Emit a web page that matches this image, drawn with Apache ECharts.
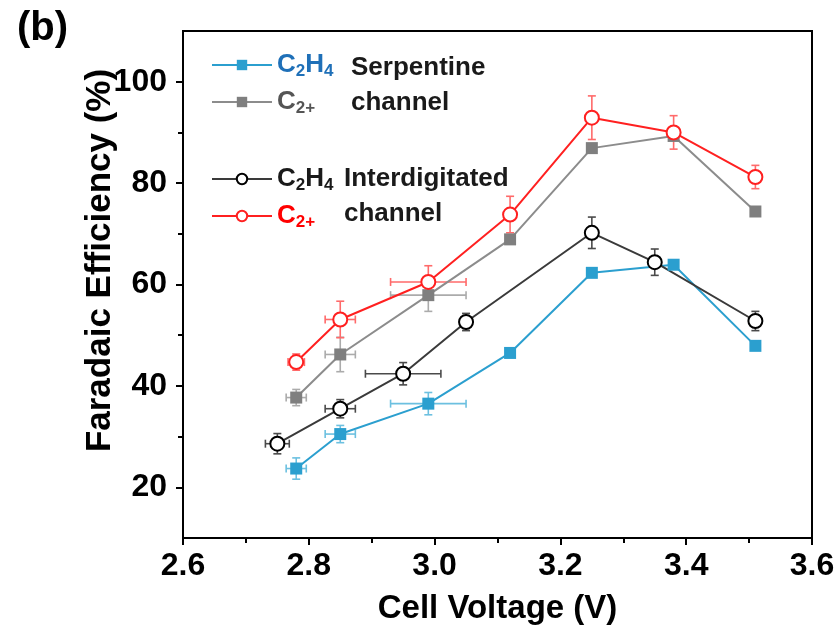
<!DOCTYPE html>
<html>
<head>
<meta charset="utf-8">
<title>Faradaic Efficiency vs Cell Voltage</title>
<script src="https://cdn.jsdelivr.net/npm/echarts@6/dist/echarts.min.js"></script>
<style>
  html, body { margin: 0; padding: 0; background: #fff; }
  #chart { width: 840px; height: 628px; }
</style>
</head>
<body>
<div id="chart"></div>
<script>
// Serpentine channel
const voltSerp      = [2.78, 2.85, 2.99, 3.12, 3.25, 3.38, 3.51];
const voltSerpErr   = [0.016, 0.024, 0.06, 0, 0, 0, 0];
const c2h4Serp      = [23.7, 30.5, 36.5, 46.5, 62.3, 63.9, 47.9];
const c2h4SerpErr   = [2.1, 1.7, 2.2, 0, 0, 0, 0];
const c2plusSerp    = [37.7, 46.2, 57.9, 68.9, 86.9, 89.3, 74.4];
const c2plusSerpErr = [1.6, 3.4, 3.2, 0, 0, 0, 0];

// Interdigitated channel
const voltInterC2H4    = [2.75, 2.85, 2.95, 3.05, 3.25, 3.35, 3.51];
const voltInterC2H4Err = [0.019, 0.024, 0.06, 0, 0, 0, 0];
const c2h4Inter        = [28.6, 35.5, 42.4, 52.6, 70.2, 64.4, 52.8];
const c2h4InterErr     = [2.0, 1.8, 2.2, 1.7, 3.1, 2.6, 1.9];
const voltInterC2      = [2.78, 2.85, 2.99, 3.12, 3.25, 3.38, 3.51];
const voltInterC2Err   = [0.013, 0.024, 0.06, 0, 0, 0, 0];
const c2plusInter      = [44.7, 53.1, 60.5, 73.8, 92.9, 90.0, 81.2];
const c2plusInterErr   = [1.6, 3.6, 3.2, 3.6, 4.3, 3.3, 2.3];

// Axis ticks
const xTicks      = [2.6, 2.8, 3.0, 3.2, 3.4, 3.6];
const yTickLabels = [20, 40, 60, 80, 100];
const yMinorTicks = [30, 50, 70, 90];

const FONT = "'Liberation Sans', Arial, sans-serif";

const C_BLUE = '#2b9fcf', C_GRAY = '#7f7f7f', C_BLACK = '#3a3a3a', C_RED = '#ff2020';

function zip(xs, ys) { return xs.map((x, i) => [x, ys[i]]); }

// Error bars (x and y) drawn through the axes' coordinate system
function errorBars(id, xs, xErr, ys, yErr, color) {
  return {
    type: 'custom',
    id: id,
    silent: true,
    encode: { x: 0, y: 1 },
    data: xs.map((x, i) => [x, ys[i], xErr[i], yErr[i]]),
    renderItem: function (params, api) {
      const x = api.value(0), y = api.value(1), dx = api.value(2), dy = api.value(3);
      const cap = 4;
      const st = { stroke: color, lineWidth: 1.6 };
      const kids = [];
      if (dy > 0) {
        const a = api.coord([x, y + dy]), b = api.coord([x, y - dy]);
        kids.push({ type: 'line', shape: { x1: a[0], y1: a[1], x2: b[0], y2: b[1] }, style: st });
        kids.push({ type: 'line', shape: { x1: a[0] - cap, y1: a[1], x2: a[0] + cap, y2: a[1] }, style: st });
        kids.push({ type: 'line', shape: { x1: b[0] - cap, y1: b[1], x2: b[0] + cap, y2: b[1] }, style: st });
      }
      if (dx > 0) {
        const a = api.coord([x - dx, y]), b = api.coord([x + dx, y]);
        kids.push({ type: 'line', shape: { x1: a[0], y1: a[1], x2: b[0], y2: b[1] }, style: st });
        kids.push({ type: 'line', shape: { x1: a[0], y1: a[1] - cap, x2: a[0], y2: a[1] + cap }, style: st });
        kids.push({ type: 'line', shape: { x1: b[0], y1: b[1] - cap, x2: b[0], y2: b[1] + cap }, style: st });
      }
      return { type: 'group', children: kids };
    }
  };
}

function lineSeries(name, xs, ys, lineColor, symbol, size, markerColor, fill) {
  return {
    type: 'line',
    name: name,
    data: zip(xs, ys),
    symbol: symbol,
    symbolSize: size,
    showAllSymbol: true,
    lineStyle: { color: lineColor, width: 2 },
    itemStyle: { color: fill || markerColor, borderColor: markerColor, borderWidth: fill ? 2 : 0 },
    emphasis: { disabled: true }
  };
}

const legendText = {
  'C2H4 serpentine':     '{bm|C}{bs|2}{bm|H}{bs|4}',
  'C2+ serpentine':      '{gm|C}{gs|2+}',
  'C2H4 interdigitated': '{km|C}{ks|2}{km|H}{ks|4}',
  'C2+ interdigitated':  '{rm|C}{rs|2+}'
};

function richPair(color) {
  return [
    { color: color, fontFamily: FONT, fontWeight: 'bold', fontSize: 26, lineHeight: 30 },
    { color: color, fontFamily: FONT, fontWeight: 'bold', fontSize: 17, lineHeight: 17, verticalAlign: 'bottom' }
  ];
}
const [bm, bs] = richPair('#1f70b8');
const [gm, gs] = richPair('#555555');
const [km, ks] = richPair('#1a1a1a');
const [rm, rs] = richPair('#ff0000');
const legendRich = { bm, bs, gm, gs, km, ks, rm, rs };

function legendBlock(names, top) {
  return {
    orient: 'vertical',
    left: 206,
    top: top,
    itemWidth: 60,
    itemHeight: 13,
    itemGap: 9,
    selectedMode: false,
    data: names,
    formatter: n => legendText[n],
    textStyle: { rich: legendRich, padding: [0, 0, 0, 0] }
  };
}

const chart = echarts.init(document.getElementById('chart'), null, { renderer: 'canvas' });

chart.setOption({
  animation: false,
  backgroundColor: '#fff',
  title: {
    text: '(b)', left: 12, top: 4,
    textStyle: { fontFamily: FONT, fontWeight: 'bold', fontSize: 40, color: '#000' }
  },
  grid: {
    left: 183, right: 28, top: 31, bottom: 90,
    show: true, borderColor: '#000', borderWidth: 2,
    outerBoundsMode: 'none'
  },
  legend: [
    legendBlock(['C2H4 serpentine', 'C2+ serpentine'], 47),
    legendBlock(['C2H4 interdigitated', 'C2+ interdigitated'], 161)
  ],
  graphic: [
    { type: 'text', left: 351, top: 55, style: { text: 'Serpentine', font: "bold 26px " + FONT, fill: '#1a1a1a' } },
    { type: 'text', left: 351, top: 90, style: { text: 'channel', font: "bold 26px " + FONT, fill: '#1a1a1a' } },
    { type: 'text', left: 344, top: 166, style: { text: 'Interdigitated', font: "bold 26px " + FONT, fill: '#1a1a1a' } },
    { type: 'text', left: 344, top: 201, style: { text: 'channel', font: "bold 26px " + FONT, fill: '#1a1a1a' } }
  ],
  xAxis: {
    type: 'value',
    min: xTicks[0], max: xTicks[xTicks.length - 1], interval: 0.2,
    name: 'Cell Voltage (V)', nameLocation: 'middle', nameGap: 54,
    nameMoveOverlap: false,
    nameTextStyle: { fontFamily: FONT, fontWeight: 'bold', fontSize: 33, color: '#000' },
    axisLine: { show: true, lineStyle: { color: '#000', width: 2 } },
    axisTick: { show: true, length: 7, lineStyle: { color: '#000', width: 2 } },
    minorTick: { show: true, splitNumber: 2, length: 5, lineStyle: { color: '#000', width: 2 } },
    axisLabel: {
      margin: 12, color: '#000', fontFamily: FONT, fontWeight: 'bold', fontSize: 32,
      formatter: v => v.toFixed(1)
    },
    splitLine: { show: false }
  },
  yAxis: [
    {
      type: 'value', min: 10, max: 110,
      name: 'Faradaic Efficiency (%)', nameLocation: 'middle', nameGap: 65,
      nameMoveOverlap: false,
      nameTextStyle: {
        fontFamily: FONT, fontWeight: 'bold', fontSize: 35, color: '#000',
        padding: [0, 0, 0, 48]
      },
      axisLine: { show: true, lineStyle: { color: '#000', width: 2 } },
      axisTick: { show: true, length: 7, customValues: yTickLabels, lineStyle: { color: '#000', width: 2 } },
      axisLabel: {
        margin: 16, color: '#000', fontFamily: FONT, fontWeight: 'bold', fontSize: 32,
        customValues: yTickLabels
      },
      splitLine: { show: false }
    },
    {
      type: 'value', min: 10, max: 110, position: 'left',
      axisLine: { show: false },
      axisTick: { show: true, length: 5, customValues: yMinorTicks, lineStyle: { color: '#000', width: 2 } },
      axisLabel: { show: false },
      splitLine: { show: false }
    }
  ],
  series: [
    errorBars('eb-c2h4-serp', voltSerp, voltSerpErr, c2h4Serp, c2h4SerpErr, '#6cc0e0'),
    lineSeries('C2H4 serpentine', voltSerp, c2h4Serp, C_BLUE, 'rect', 12, C_BLUE),
    errorBars('eb-c2plus-serp', voltSerp, voltSerpErr, c2plusSerp, c2plusSerpErr, '#ababab'),
    lineSeries('C2+ serpentine', voltSerp, c2plusSerp, '#8c8c8c', 'rect', 12, C_GRAY),
    errorBars('eb-c2h4-inter', voltInterC2H4, voltInterC2H4Err, c2h4Inter, c2h4InterErr, '#4a4a4a'),
    lineSeries('C2H4 interdigitated', voltInterC2H4, c2h4Inter, C_BLACK, 'circle', 14, '#000', '#fff'),
    errorBars('eb-c2plus-inter', voltInterC2, voltInterC2Err, c2plusInter, c2plusInterErr, '#ff6a6a'),
    lineSeries('C2+ interdigitated', voltInterC2, c2plusInter, C_RED, 'circle', 14, C_RED, '#fff')
  ]
});
</script>
</body>
</html>
